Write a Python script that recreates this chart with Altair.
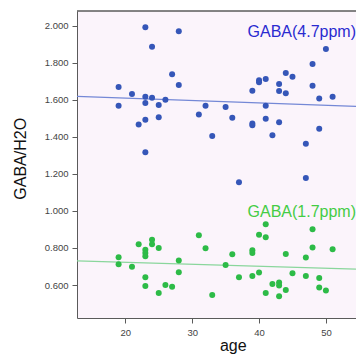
import altair as alt
import pandas as pd

# ---- data ----
blue_age = [23, 28, 24, 27, 28, 19, 21, 23, 24, 26, 23, 19, 25, 32, 31, 25, 23, 22, 33, 23,
            50, 48, 44, 45, 41, 40, 40, 43, 48, 39, 43, 44, 51, 49, 35, 41, 36, 41, 43, 39,
            39, 49, 42, 47, 37, 47]
blue_val = [1.991, 1.970, 1.886, 1.737, 1.679, 1.669, 1.631, 1.616, 1.611, 1.600, 1.582, 1.568,
            1.571, 1.568, 1.521, 1.505, 1.492, 1.467, 1.404, 1.316,
            1.874, 1.793, 1.744, 1.724, 1.712, 1.705, 1.695, 1.685, 1.676, 1.649, 1.647, 1.635,
            1.616, 1.607, 1.561, 1.568, 1.503, 1.497, 1.479, 1.472, 1.462, 1.443, 1.408, 1.362,
            1.155, 1.177]
green_age = [24, 31, 22, 24, 23, 23, 23, 25, 32, 19, 19, 21, 28, 28, 23, 23, 26, 27, 25, 33,
             41, 48, 40, 41, 39, 39, 48, 51, 36, 44, 47, 35, 37, 39, 40, 45, 47, 49, 42, 43,
             43, 44, 49, 50, 41, 43]
green_val = [0.845, 0.869, 0.820, 0.820, 0.791, 0.773, 0.755, 0.800, 0.798, 0.750, 0.712, 0.699,
             0.732, 0.669, 0.642, 0.595, 0.600, 0.591, 0.557, 0.546,
             0.928, 0.901, 0.872, 0.858, 0.787, 0.773, 0.802, 0.793, 0.766, 0.768, 0.748, 0.708,
             0.642, 0.649, 0.667, 0.663, 0.649, 0.638, 0.605, 0.613, 0.598, 0.573, 0.586, 0.570,
             0.557, 0.539]
fit_age = [12.78, 54.5]
blue_fit = [1.618, 1.564]
green_fit = [0.730, 0.686]
label_text = ["GABA(4.7ppm)", "GABA(1.7ppm)"]
label_age = [54.5, 54.5]
label_val = [1.9405, 0.9676]
x_ticks = [20, 30, 40, 50]
y_ticks = [0.6, 0.8, 1.0, 1.2, 1.4, 1.6, 1.8, 2.0]

X_DOM = [12.78, 54.5]
Y_DOM = [0.422, 2.079]
W, H = 279, 307
AXIS_COLOR = "#5a5a5a"

blue_df = pd.DataFrame({"age": blue_age, "val": blue_val})
green_df = pd.DataFrame({"age": green_age, "val": green_val})
blue_fit_df = pd.DataFrame({"age": fit_age, "val": blue_fit})
green_fit_df = pd.DataFrame({"age": fit_age, "val": green_fit})
lab_blue = pd.DataFrame({"age": label_age[:1], "val": label_val[:1], "t": label_text[:1]})
lab_green = pd.DataFrame({"age": label_age[1:], "val": label_val[1:], "t": label_text[1:]})

x_enc = alt.X("age:Q",
              scale=alt.Scale(domain=X_DOM, nice=False, zero=False),
              axis=alt.Axis(values=x_ticks, title="age", grid=False,
                            titleX=155.8, titleY=32, titleBaseline="alphabetic",
                            titleAnchor="start", titleAlign="center"))
y_enc = alt.Y("val:Q",
              scale=alt.Scale(domain=Y_DOM, nice=False, zero=False),
              axis=alt.Axis(values=y_ticks, format=".3f", title="GABA/H2O", grid=False,
                            titleX=-51.7, titleY=147.3, titleBaseline="alphabetic",
                            titleAngle=270, titleAlign="center"))

blue_pts = alt.Chart(blue_df).mark_circle(size=36, opacity=1, color="#3556b8").encode(x=x_enc, y=y_enc)
green_pts = alt.Chart(green_df).mark_circle(size=36, opacity=1, color="#2dbb47").encode(x=x_enc, y=y_enc)
blue_line = alt.Chart(blue_fit_df).mark_line(color="#7488d6", strokeWidth=1.2, clip=True).encode(x=x_enc, y=y_enc)
green_line = alt.Chart(green_fit_df).mark_line(color="#8ad69c", strokeWidth=1.2, clip=True).encode(x=x_enc, y=y_enc)
blue_lab = alt.Chart(lab_blue).mark_text(align="right", baseline="alphabetic", fontSize=16,
                                         color="#2a2ad0").encode(x=x_enc, y=y_enc, text="t:N")
green_lab = alt.Chart(lab_green).mark_text(align="right", baseline="alphabetic", fontSize=16,
                                           color="#44cc44").encode(x=x_enc, y=y_enc, text="t:N")
top_border = alt.Chart(blue_fit_df).mark_rule(color=AXIS_COLOR, strokeWidth=1).encode(
    x=alt.value(0), x2=alt.value(W), y=alt.value(0))

chart = alt.layer(blue_line, green_line, blue_pts, green_pts, blue_lab, green_lab, top_border).properties(
    width=W, height=H,
    autosize=alt.AutoSizeParams(type="none"),
    padding={"left": 69, "top": 3, "right": 0, "bottom": 38},
    background="white",
).configure(font="Liberation Sans").configure_view(
    fill="#fbf4fb", stroke="transparent"
).configure_axis(
    domainColor=AXIS_COLOR, tickColor=AXIS_COLOR, tickSize=5,
    labelFontSize=9.5, labelColor="#444444", labelPadding=4,
    titleFontSize=16, titleFontWeight="normal", titleColor="#111111",
)

chart.save("out.html", embed_options={"renderer": "svg", "actions": False})
